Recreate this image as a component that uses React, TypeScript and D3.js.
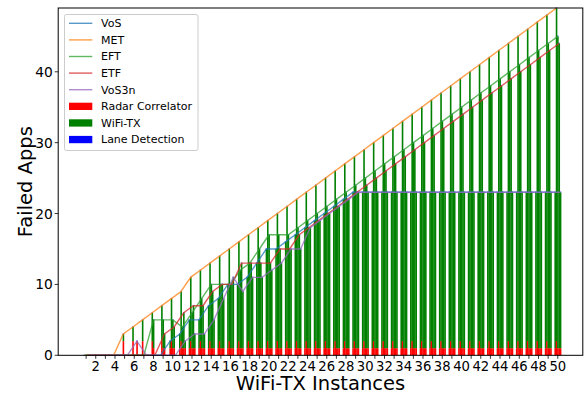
import React from "react";
import * as d3 from "d3";

// WiFi-TX instance counts on the x axis
const instances = [
  1, 2, 3, 4, 5, 6, 7, 8, 9, 10, 11, 12, 13, 14, 15, 16, 17, 18, 19, 20, 21, 22, 23, 24, 25,
  26, 27, 28, 29, 30, 31, 32, 33, 34, 35, 36, 37, 38, 39, 40, 41, 42, 43, 44, 45, 46, 47, 48, 49, 50,
];

const methods = ["VoS", "MET", "EFT", "ETF", "VoS3n"];
const methodColors = ["#1f77b4", "#ff7f0e", "#2ca02c", "#d62728", "#9467bd"];

// total failed apps per scheduler
const failedVoS = [
  0, 0, 0, 0, 0, 0, 0, 0, 0, 2, 3, 5, 5, 7, 8, 10, 10, 11, 13, 15, 15, 16, 17, 18, 19,
  20, 21, 22, 23, 23, 23, 23, 23, 23, 23, 23, 23, 23, 23, 23, 23, 23, 23, 23, 23, 23, 23, 23, 23, 23,
];
const failedMET = [
  0, 0, 0, 0, 3, 4, 5, 6, 7, 8, 9, 11, 12, 13, 14, 15, 16, 17, 18, 19, 20, 21, 22, 23, 24,
  25, 26, 27, 28, 29, 30, 31, 32, 33, 34, 35, 36, 37, 38, 39, 40, 41, 42, 43, 44, 45, 46, 47, 48, 49,
];
const failedEFT = [
  0, 0, 0, 0, 0, 0, 0, 5, 5, 5, 4, 6, 8, 10, 10, 10, 12, 13, 15, 17, 17, 17, 18, 19, 20,
  21, 22, 23, 24, 25, 26, 27, 28, 29, 30, 31, 32, 33, 34, 35, 36, 37, 38, 39, 40, 41, 42, 43, 44, 45,
];
const failedETF = [
  0, 0, 0, 0, 0, 0, 0, 0, 3, 4, 6, 7, 7, 9, 10, 10, 13, 13, 13, 13, 15, 15, 17, 18, 19,
  20, 21, 22, 23, 24, 25, 26, 27, 28, 29, 30, 31, 32, 33, 34, 35, 36, 37, 38, 39, 40, 41, 42, 43, 44,
];
const failedVoS3n = [
  0, 0, 0, 0, 0, 2, 0, 0, 0, 0, 2, 3, 3, 5, 8, 11, 9, 11, 11, 12, 13, 15, 15, 18, 19,
  20, 21, 22, 23, 23, 23, 23, 23, 23, 23, 23, 23, 23, 23, 23, 23, 23, 23, 23, 23, 23, 23, 23, 23, 23,
];

// Radar Correlator share of the failures
const radarVoS = [
  0, 0, 0, 0, 0, 0, 0, 0, 0, 1, 1, 1, 1, 1, 1, 1, 1, 1, 1, 1, 1, 1, 1, 1, 1,
  1, 1, 1, 1, 1, 1, 1, 1, 1, 1, 1, 1, 1, 1, 1, 1, 1, 1, 1, 1, 1, 1, 1, 1, 1,
];
const radarMET = [
  0, 0, 0, 0, 2, 2, 2, 2, 2, 2, 2, 2, 2, 2, 2, 2, 2, 2, 2, 2, 2, 2, 2, 2, 2,
  2, 2, 2, 2, 2, 2, 2, 2, 2, 2, 2, 2, 2, 2, 2, 2, 2, 2, 2, 2, 2, 2, 2, 2, 2,
];
const radarEFT = [
  0, 0, 0, 0, 0, 0, 0, 1, 1, 1, 1, 1, 1, 1, 1, 1, 1, 1, 1, 1, 1, 1, 1, 1, 1,
  1, 1, 1, 1, 1, 1, 1, 1, 1, 1, 1, 1, 1, 1, 1, 1, 1, 1, 1, 1, 1, 1, 1, 1, 1,
];
const radarETF = [
  0, 0, 0, 0, 0, 0, 0, 0, 1, 1, 1, 1, 1, 1, 1, 1, 1, 1, 1, 1, 1, 1, 1, 1, 1,
  1, 1, 1, 1, 1, 1, 1, 1, 1, 1, 1, 1, 1, 1, 1, 1, 1, 1, 1, 1, 1, 1, 1, 1, 1,
];
const radarVoS3n = [
  0, 0, 0, 0, 0, 2, 0, 0, 0, 0, 1, 1, 1, 1, 1, 1, 1, 1, 1, 1, 1, 1, 1, 1, 1,
  1, 1, 1, 1, 1, 1, 1, 1, 1, 1, 1, 1, 1, 1, 1, 1, 1, 1, 1, 1, 1, 1, 1, 1, 1,
];

// Lane Detection share of the failures
const laneVoS = [
  0, 0, 0, 0, 0, 0, 0, 0, 0, 0, 0, 0, 0, 0, 0, 0, 0, 0, 0, 0, 0, 0, 0, 0, 0,
  0, 0, 0, 0, 0, 0, 0, 0, 0, 0, 0, 0, 0, 0, 0, 0, 0, 0, 0, 0, 0, 0, 0, 0, 0,
];
const laneMET = [
  0, 0, 0, 0, 0, 0, 0, 0, 0, 0, 0, 0, 0, 0, 0, 0, 0, 0, 0, 0, 0, 0, 0, 0, 0,
  0, 0, 0, 0, 0, 0, 0, 0, 0, 0, 0, 0, 0, 0, 0, 0, 0, 0, 0, 0, 0, 0, 0, 0, 0,
];
const laneEFT = [
  0, 0, 0, 0, 0, 0, 0, 0, 0, 0, 0, 0, 0, 0, 0, 0, 0, 0, 0, 0, 0, 0, 0, 0, 0,
  0, 0, 0, 0, 0, 0, 0, 0, 0, 0, 0, 0, 0, 0, 0, 0, 0, 0, 0, 0, 0, 0, 0, 0, 0,
];
const laneETF = [
  0, 0, 0, 0, 0, 0, 0, 0, 0, 0, 0, 0, 0, 0, 0, 0, 0, 0, 0, 0, 0, 0, 0, 0, 0,
  0, 0, 0, 0, 0, 0, 0, 0, 0, 0, 0, 0, 0, 0, 0, 0, 0, 0, 0, 0, 0, 0, 0, 0, 0,
];
const laneVoS3n = [
  0, 0, 0, 0, 0, 0, 0, 0, 0, 0, 0, 0, 0, 0, 0, 0, 0, 0, 0, 0, 0, 0, 0, 0, 0,
  0, 0, 0, 0, 0, 0, 0, 0, 0, 0, 0, 0, 0, 0, 0, 0, 0, 0, 0, 0, 0, 0, 0, 0, 0,
];

const xTickLabels = [
  "", "2", "", "4", "", "6", "", "8", "", "10", "", "12", "", "14", "", "16", "", "18", "", "20",
  "", "22", "", "24", "", "26", "", "28", "", "30", "", "32", "", "34", "", "36", "", "38", "", "40",
  "", "42", "", "44", "", "46", "", "48", "", "50",
];
const yTicks = [0, 10, 20, 30, 40];

const appNames = ["Radar Correlator", "WiFi-TX", "Lane Detection"];
const appColors = ["#ff0000", "#008000", "#0000ff"];

const failed = [failedVoS, failedMET, failedEFT, failedETF, failedVoS3n];
const radar = [radarVoS, radarMET, radarEFT, radarETF, radarVoS3n];
const lane = [laneVoS, laneMET, laneEFT, laneETF, laneVoS3n];

const W = 584;
const H = 395;
const plot = { left: 58.2, right: 582.8, top: 8, bottom: 355.3 };
const FONT = "DejaVu Sans, sans-serif";
const barWidth = 0.14;

export default function App() {
  const x = d3.scaleLinear().domain([-1.9, 52.6]).range([plot.left, plot.right]);
  const y = d3.scaleLinear().domain([0, 49]).range([plot.bottom, plot.top]);
  const offset = (m: number) => (m - (methods.length - 1) / 2) * barWidth;
  const pxW = x(barWidth) - x(0);

  const bars: React.ReactNode[] = [];
  methods.forEach((_, m) => {
    instances.forEach((inst, i) => {
      const r = radar[m][i];
      const l = lane[m][i];
      const w = failed[m][i] - r - l;
      const left = x(inst + offset(m)) - pxW / 2;
      const segs = [
        { v: r, base: 0, c: 0 },
        { v: w, base: r, c: 1 },
        { v: l, base: r + w, c: 2 },
      ];
      segs.forEach((s) => {
        const y0 = y(s.base);
        const y1 = y(s.base + s.v);
        let top = y1;
        let h = y0 - y1;
        let op = 1;
        if (s.c === 2 && h < 0.8 && s.base > 0) {
          // zero-height patches still leave a hairline on top of the stack
          h = 0.8;
          top = y0 - h;
          op = 0.55;
        }
        if (h <= 0) return;
        bars.push(
          <rect
            key={`b${m}-${i}-${s.c}`}
            x={left}
            y={top}
            width={pxW + 0.25}
            height={h}
            fill={appColors[s.c]}
            opacity={op}
          />
        );
      });
    });
  });

  const lines = methods.map((name, m) => {
    const gen = d3
      .line<number>()
      .x((_, i) => x(instances[i] + offset(m)))
      .y((d) => y(d));
    return (
      <path
        key={name}
        d={gen(failed[m]) || ""}
        fill="none"
        stroke={methodColors[m]}
        strokeWidth={1.4}
        strokeOpacity={0.75}
      />
    );
  });

  const legendX = 64.5;
  const legendY = 14.5;
  const rowH = 16.6;
  const legendRows = [
    ...methods.map((n, m) => ({ label: n, kind: "line", color: methodColors[m] })),
    ...appNames.map((n, a) => ({ label: n, kind: "patch", color: appColors[a] })),
  ];

  return (
    <svg
      width={W}
      height={H}
      style={{ position: "absolute", left: 0, top: 0, background: "#fff" }}
      fontFamily={FONT}
    >
      <rect x={0} y={0} width={W} height={H} fill="#fff" />
      <g>{bars}</g>
      <g>{lines}</g>

      {/* frame */}
      <rect
        x={plot.left}
        y={plot.top}
        width={plot.right - plot.left}
        height={plot.bottom - plot.top}
        fill="none"
        stroke="#000"
        strokeWidth={1}
      />

      {/* x ticks */}
      {instances.map((inst, i) => (
        <g key={`xt${inst}`} transform={`translate(${x(inst)},${plot.bottom})`}>
          <line y1={0} y2={3.5} stroke="#000" strokeWidth={0.8} />
          {xTickLabels[i] && (
            <text y={16} textAnchor="middle" fontSize={13.2} fill="#000">
              {xTickLabels[i]}
            </text>
          )}
        </g>
      ))}

      {/* y ticks */}
      {yTicks.map((t) => (
        <g key={`yt${t}`} transform={`translate(${plot.left},${y(t)})`}>
          <line x1={-3.5} x2={0} stroke="#000" strokeWidth={0.8} />
          <text x={-5.5} dy="0.36em" textAnchor="end" fontSize={13.8} fill="#000">
            {t}
          </text>
        </g>
      ))}

      <text x={(plot.left + plot.right) / 2} y={390} textAnchor="middle" fontSize={19.5} fill="#000">
        WiFi-TX Instances
      </text>
      <text
        transform={`translate(31.5,${(plot.top + plot.bottom) / 2}) rotate(-90)`}
        textAnchor="middle"
        fontSize={19.5}
        fill="#000"
      >
        Failed Apps
      </text>

      {/* legend */}
      <rect
        x={legendX}
        y={legendY}
        width={133.5}
        height={136}
        rx={2}
        fill="#fff"
        fillOpacity={0.8}
        stroke="#cccccc"
        strokeWidth={1}
      />
      {legendRows.map((r, k) => {
        const cy = legendY + 8.8 + k * rowH;
        return (
          <g key={`lg${r.label}`}>
            {r.kind === "line" ? (
              <line
                x1={69}
                x2={92.3}
                y1={cy}
                y2={cy}
                stroke={r.color}
                strokeWidth={1.4}
                strokeOpacity={0.75}
              />
            ) : (
              <rect x={69} y={cy - 3.6} width={23.3} height={7.3} fill={r.color} />
            )}
            <text x={101} y={cy} dy="0.36em" fontSize={11} fill="#000">
              {r.label}
            </text>
          </g>
        );
      })}
    </svg>
  );
}
